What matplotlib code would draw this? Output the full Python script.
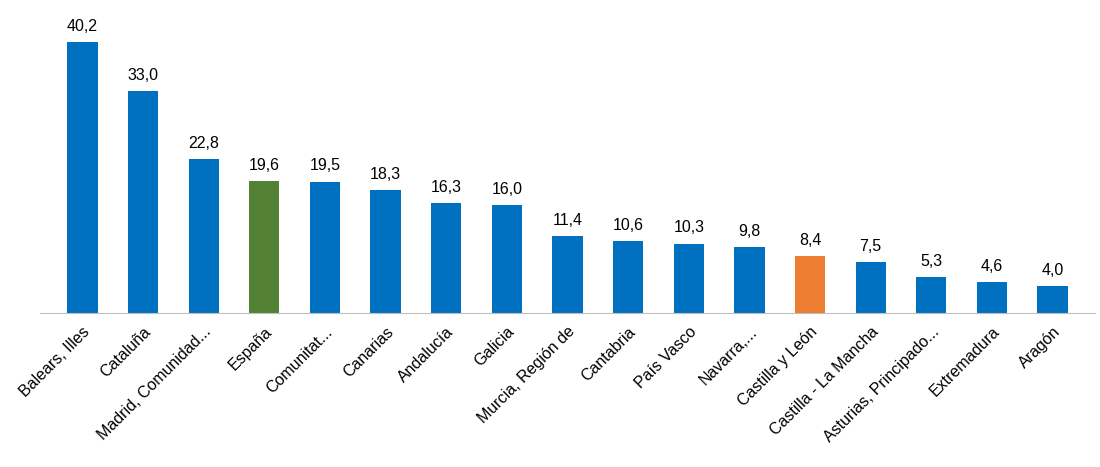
import matplotlib.pyplot as plt

# Data
regions = ["Balears, Illes", "Cataluña", "Madrid, Comunidad...", "España", "Comunitat...",
           "Canarias", "Andalucía", "Galicia", "Murcia, Región de", "Cantabria", "País Vasco",
           "Navarra,...", "Castilla y León", "Castilla - La Mancha", "Asturias, Principado...",
           "Extremadura", "Aragón"]
values = [40.2, 33.0, 22.8, 19.6, 19.5, 18.3, 16.3, 16.0, 11.4, 10.6, 10.3, 9.8, 8.4, 7.5, 5.3, 4.6, 4.0]

blue = "#0070C0"
colors = [blue] * len(values)
colors[3] = "#548235"
colors[12] = "#ED7D31"

plt.rcParams["font.family"] = "Liberation Sans"

fig = plt.figure(figsize=(11, 4.67), dpi=100)
ax = fig.add_axes([40 / 1100, 0.330, 1055 / 1100, 0.979 - 0.330])

x = range(len(values))
ax.bar(x, values, width=0.5, color=colors)
for i, v in enumerate(values):
    ax.text(i, v + 1.2, f"{v:.1f}".replace(".", ","), ha="center", va="bottom", fontsize=11.5)

ax.set_xlim(-0.7, len(values) - 0.3)
ax.set_ylim(0, 45)
ax.set_xticks(list(x))
ax.set_xticklabels(regions, rotation=45, ha="right", rotation_mode="anchor", fontsize=11.5)
ax.tick_params(axis="x", length=0, pad=8)
ax.set_yticks([])
for s in ["top", "right", "left"]:
    ax.spines[s].set_visible(False)
ax.spines["bottom"].set_color("#BFBFBF")

fig.savefig("out.png")
